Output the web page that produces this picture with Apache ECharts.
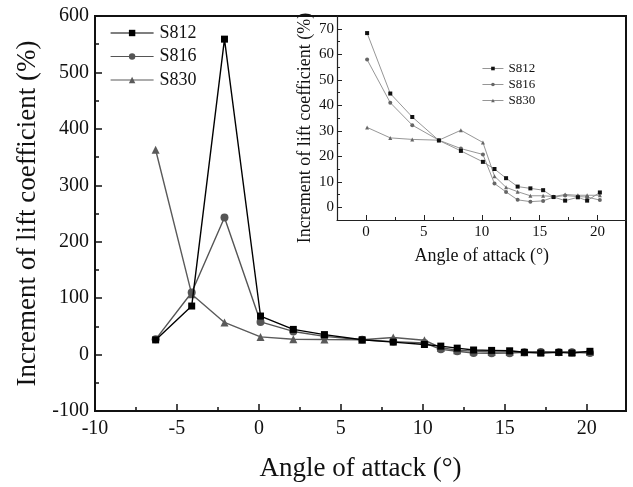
<!DOCTYPE html>
<html>
<head>
<meta charset="utf-8">
<script src="https://cdn.jsdelivr.net/npm/echarts@6/dist/echarts.min.js"></script>
<style>
  html, body { margin: 0; padding: 0; background: #fff; }
  #chart { width: 633px; height: 487px; }
</style>
</head>
<body>
<div id="chart"></div>
<script>
// Angle of attack (degrees) for each measurement
const angles = [-6.3, -4.1, -2.1, 0.1, 2.1, 4.0, 6.3, 8.2, 10.1, 11.1, 12.1, 13.1, 14.2, 15.3, 16.2, 17.2, 18.3, 19.1, 20.2];
// Increment of lift coefficient (%) per airfoil
const s812 = [26, 86, 559, 68.3, 44.6, 35.4, 26.2, 22.1, 17.8, 15.0, 11.4, 8.1, 7.4, 6.7, 4.0, 2.6, 3.9, 2.6, 5.8];
const s816 = [27, 110, 243, 57.9, 41.0, 32.2, 26.3, 23.0, 20.7, 9.3, 6.0, 2.9, 2.2, 2.5, 4.0, 4.6, 4.2, 4.0, 2.8];
const s830 = [363, 107, 57, 31.3, 27.2, 26.6, 26.3, 30.2, 25.4, 12.2, 7.8, 6.1, 4.5, 4.5, 4.2, 5.0, 4.7, 4.7, 4.7];
const seriesNames = ['S812', 'S816', 'S830'];

// Tick positions
const mainXMajor = [-10, -5, 0, 5, 10, 15, 20];
const mainXMinor = [-7.5, -2.5, 2.5, 7.5, 12.5, 17.5];
const mainYMajor = [-100, 0, 100, 200, 300, 400, 500, 600];
const mainYMinor = [-50, 50, 150, 250, 350, 450, 550];
const insetXMajor = [0, 5, 10, 15, 20];
const insetXMinor = [2.5, 7.5, 12.5, 17.5];
const insetYMajor = [0, 10, 20, 30, 40, 50, 60, 70];
const insetYMinor = [5, 15, 25, 35, 45, 55, 65];

// First angle index shown in the inset (angles >= 0)
const insetStart = 3;

const FONT = '"Liberation Serif", "Times New Roman", serif';
const mainColors = ['#000000', '#555555', '#5a5a5a'];
const insetMarkColors = ['#111111', '#666666', '#666666'];
const symbols = ['rect', 'circle', 'triangle'];
const mainSizes = [7, 8, 8];
const values = [s812, s816, s830];

function pairs(xs, ys, start) {
  const out = [];
  for (let i = start; i < xs.length; i++) out.push([xs[i], ys[i]]);
  return out;
}

const series = [];
values.forEach((v, k) => {
  series.push({
    name: seriesNames[k],
    type: 'line',
    xAxisIndex: 0,
    yAxisIndex: 0,
    data: pairs(angles, v, 0),
    symbol: symbols[k],
    symbolSize: mainSizes[k],
    lineStyle: { color: mainColors[k], width: 1.4 },
    itemStyle: { color: mainColors[k] },
    z: 5 - k
  });
});
values.forEach((v, k) => {
  series.push({
    name: seriesNames[k],
    type: 'line',
    xAxisIndex: 2,
    yAxisIndex: 1,
    data: pairs(angles, v, insetStart),
    symbol: symbols[k],
    symbolSize: 4,
    lineStyle: { color: '#8a8a8a', width: 0.9 },
    itemStyle: { color: insetMarkColors[k] },
    z: 5 - k
  });
});

// Axis that only contributes extra (minor) tick marks
function tickAxis(opts) {
  return Object.assign({
    type: 'value',
    splitLine: { show: false },
    axisLine: { show: false, onZero: false },
    axisLabel: { show: false }
  }, opts);
}

const option = {
  animation: false,
  backgroundColor: '#ffffff',
  grid: [
    { left: 95, top: 16, right: 7, bottom: 75, show: true, borderColor: '#111', borderWidth: 2, backgroundColor: 'transparent' },
    { left: 337, top: 16, right: 6.5, bottom: 267 }
  ],
  legend: [
    {
      data: seriesNames.map((n, k) => ({
        name: n,
        itemStyle: { color: mainColors[k] },
        lineStyle: { color: mainColors[k], width: 1.2 }
      })),
      orient: 'vertical',
      left: 110,
      top: 24,
      padding: 0,
      itemWidth: 43,
      itemHeight: 8,
      itemGap: 5.5,
      textStyle: { fontFamily: FONT, fontSize: 18, lineHeight: 18, color: '#111', padding: [0, 0, 0, 1] },
      selectedMode: false
    },
    {
      data: seriesNames.map((n, k) => ({
        name: n,
        itemStyle: { color: insetMarkColors[k] },
        lineStyle: { color: '#8a8a8a', width: 0.9 }
      })),
      orient: 'vertical',
      left: 482,
      top: 62,
      padding: 0,
      itemWidth: 21,
      itemHeight: 4.5,
      itemGap: 3,
      textStyle: { fontFamily: FONT, fontSize: 13, lineHeight: 13, color: '#111' },
      selectedMode: false
    }
  ],
  xAxis: [
    {
      type: 'value', gridIndex: 0, position: 'bottom', min: -10, max: 22.4,
      splitLine: { show: false },
      axisLine: { show: true, onZero: false, lineStyle: { color: '#111', width: 2 } },
      axisTick: { show: true, inside: true, length: 7, customValues: mainXMajor, lineStyle: { color: '#111', width: 1.5 } },
      axisLabel: { customValues: mainXMajor, fontFamily: FONT, fontSize: 20, color: '#111', margin: 8 },
      name: 'Angle of attack (°)', nameLocation: 'middle', nameGap: 44,
      nameTextStyle: { fontFamily: FONT, fontSize: 27, color: '#111' }
    },
    tickAxis({
      gridIndex: 0, position: 'bottom', min: -10, max: 22.4,
      axisTick: { show: true, inside: true, length: 4, customValues: mainXMinor, lineStyle: { color: '#111', width: 1.5 } }
    }),
    {
      type: 'value', gridIndex: 1, position: 'bottom', min: -2.5, max: 22.5,
      splitLine: { show: false },
      axisLine: { show: true, onZero: false, lineStyle: { color: '#222', width: 1.2 } },
      axisTick: { show: true, inside: true, length: 5, customValues: insetXMajor, lineStyle: { color: '#222', width: 1 } },
      axisLabel: { customValues: insetXMajor, fontFamily: FONT, fontSize: 15, color: '#111', margin: 5 },
      name: 'Angle of attack (°)', nameLocation: 'middle', nameGap: 27,
      nameTextStyle: { fontFamily: FONT, fontSize: 18, color: '#111' }
    },
    tickAxis({
      gridIndex: 1, position: 'bottom', min: -2.5, max: 22.5,
      axisTick: { show: true, inside: true, length: 3, customValues: insetXMinor, lineStyle: { color: '#222', width: 1 } }
    })
  ],
  yAxis: [
    {
      type: 'value', gridIndex: 0, position: 'left', min: -100, max: 600,
      splitLine: { show: false },
      axisLine: { show: true, onZero: false, lineStyle: { color: '#111', width: 2 } },
      axisTick: { show: true, inside: true, length: 7, customValues: mainYMajor, lineStyle: { color: '#111', width: 1.5 } },
      axisLabel: { customValues: mainYMajor, fontFamily: FONT, fontSize: 20, color: '#111', margin: 6 },
      name: 'Increment of lift coefficient (%)', nameLocation: 'middle', nameGap: 54,
      nameTextStyle: { fontFamily: FONT, fontSize: 27, color: '#111' }
    },
    {
      type: 'value', gridIndex: 1, position: 'left', min: -5, max: 75,
      splitLine: { show: false },
      axisLine: { show: true, onZero: false, lineStyle: { color: '#222', width: 1.2 } },
      axisTick: { show: true, inside: true, length: 5, customValues: insetYMajor, lineStyle: { color: '#222', width: 1 } },
      axisLabel: { customValues: insetYMajor, fontFamily: FONT, fontSize: 15, color: '#111', margin: 3 },
      name: 'Increment of lift coefficient (%)', nameLocation: 'middle', nameGap: 23,
      nameTextStyle: { fontFamily: FONT, fontSize: 18, color: '#111', padding: [0, 20, 0, 0] }
    },
    tickAxis({
      gridIndex: 1, position: 'left', min: -5, max: 75,
      axisTick: { show: true, inside: true, length: 3, customValues: insetYMinor, lineStyle: { color: '#222', width: 1 } }
    }),
    tickAxis({
      gridIndex: 0, position: 'left', min: -100, max: 600,
      axisTick: { show: true, inside: true, length: 4, customValues: mainYMinor, lineStyle: { color: '#111', width: 1.5 } }
    })
  ],
  series: series
};

const chart = echarts.init(document.getElementById('chart'), null, { renderer: 'canvas' });
chart.setOption(option);
</script>
</body>
</html>
